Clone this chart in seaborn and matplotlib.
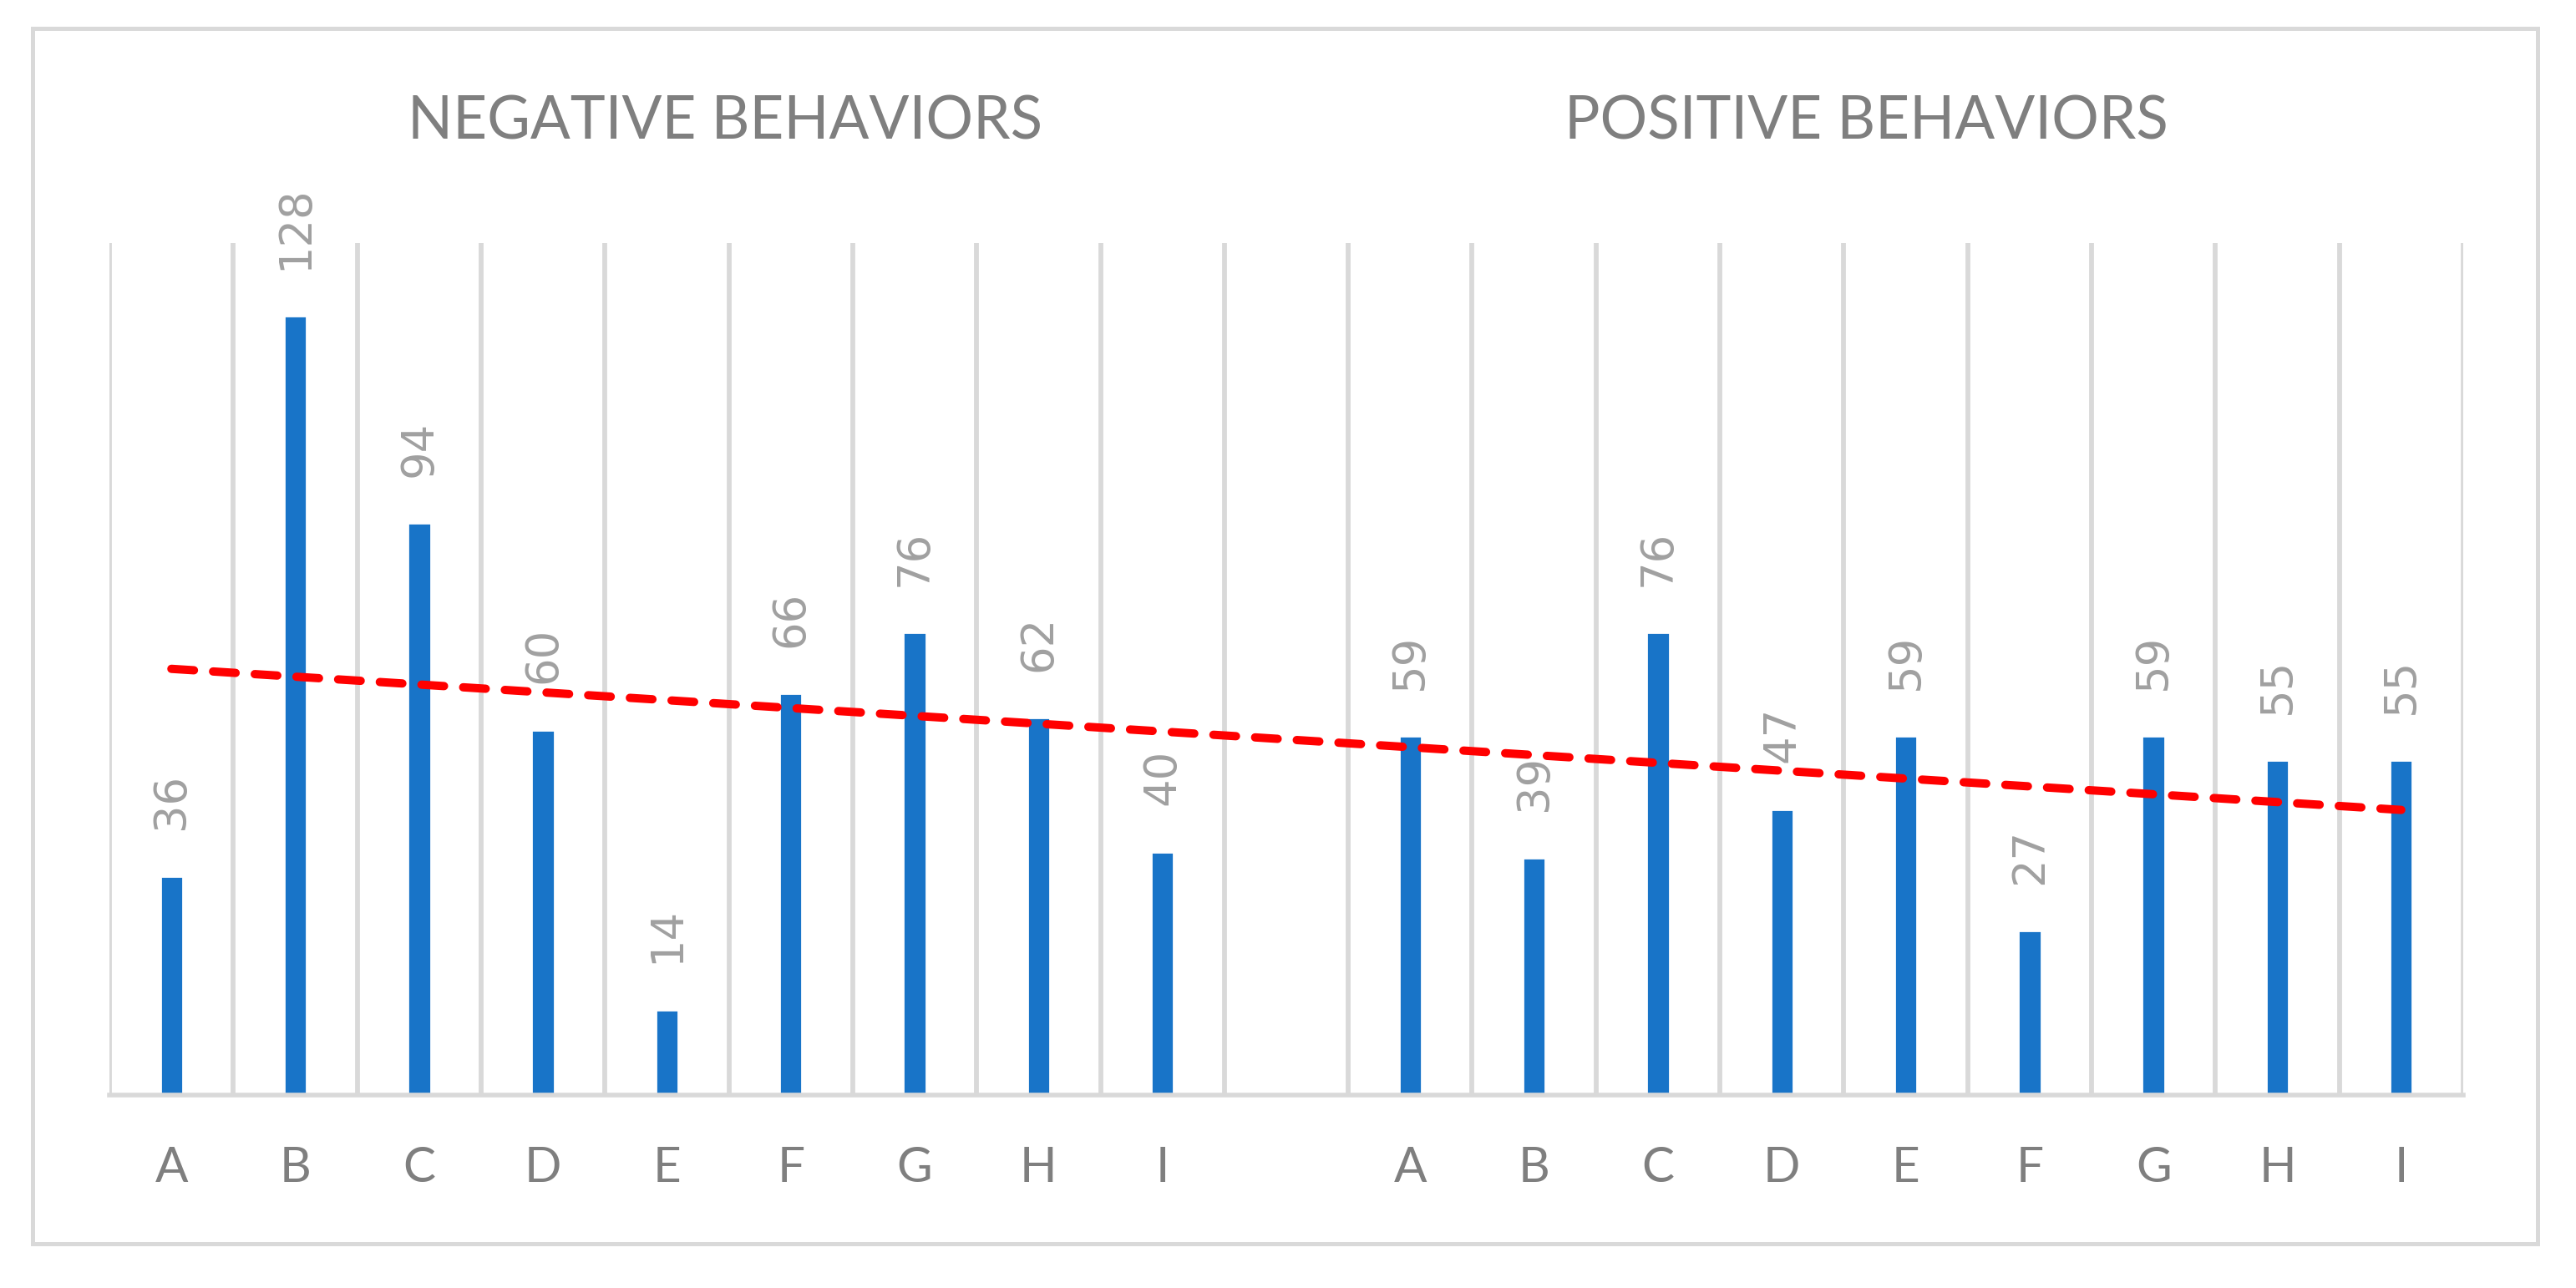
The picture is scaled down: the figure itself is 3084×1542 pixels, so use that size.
import matplotlib
matplotlib.use("Agg")
import matplotlib.pyplot as plt
from matplotlib.patches import Rectangle
import numpy as np
import pandas as pd
import seaborn as sns

# Chart data
letters = ["A", "B", "C", "D", "E", "F", "G", "H", "I"]
negative_counts = [36, 128, 94, 60, 14, 66, 76, 62, 40]
positive_counts = [59, 39, 76, 47, 59, 27, 59, 55, 55]
group_titles = ["NEGATIVE BEHAVIORS", "POSITIVE BEHAVIORS"]

neg_slots = ["neg_" + c for c in letters]
pos_slots = ["pos_" + c for c in letters]
slot_order = neg_slots + ["gap"] + pos_slots
tick_labels = letters + [""] + letters

df = pd.DataFrame({
    "slot": neg_slots + pos_slots,
    "count": negative_counts + positive_counts,
})

BAR_BLUE = "#1874C8"
GRID_GRAY = "#D9D9D9"
TEXT_GRAY = "#7F7F7F"
LABEL_GRAY = "#A0A0A0"

sns.set_theme(style="white")
plt.rcParams["font.family"] = ["Lato", "DejaVu Sans"]

fig = plt.figure(figsize=(15.42, 7.71), dpi=200)
ax = fig.add_axes([0.0425, 0.1498, 0.9137, 0.6615])

sns.barplot(data=df, x="slot", y="count", order=slot_order, color=BAR_BLUE,
            saturation=1, width=0.185, ax=ax, zorder=2)

# value labels, rotated like the original
ax.bar_label(ax.containers[0], fmt="%d", rotation=90, padding=20,
             color=LABEL_GRAY, fontsize=19, family="DejaVu Sans")

# linear trend over all bars (gap slot left out)
xpos = np.array([slot_order.index(s) for s in df["slot"]])
slope, intercept = np.polyfit(xpos, df["count"].to_numpy(), 1)
x_trend = np.array([xpos.min(), xpos.max()])
ax.plot(x_trend, slope * x_trend + intercept, color="#FF0000", lw=3.6,
        dashes=(2.7, 2.3), dash_capstyle="round", zorder=4)

# axes styling
ax.set_xlim(-0.5, len(slot_order) - 0.5)
ax.set_ylim(0, 140)
ax.set_xticks(range(len(slot_order)), labels=tick_labels)
ax.set_xticks(np.arange(-0.5, len(slot_order)), minor=True)
ax.set_yticks([])
ax.grid(False)
ax.grid(which="minor", axis="x", color=GRID_GRAY, lw=2.1, zorder=0)
ax.tick_params(axis="x", which="both", length=0, pad=22, labelsize=21,
               labelcolor=TEXT_GRAY)
ax.set_xlabel("")
ax.set_ylabel("")
for side in ["left", "right", "top"]:
    ax.spines[side].set_visible(False)
ax.spines["bottom"].set_color(GRID_GRAY)
ax.spines["bottom"].set_linewidth(2.0)

# group titles
fig.text(0.2815, 0.8917, group_titles[0], ha="center", va="baseline",
         fontsize=25.5, color=TEXT_GRAY)
fig.text(0.7245, 0.8917, group_titles[1], ha="center", va="baseline",
         fontsize=25.5, color=TEXT_GRAY)

# chart area border
fig.add_artist(Rectangle((0.01265, 0.0344), 0.9724, 0.9436,
                         transform=fig.transFigure, fill=False,
                         ec=GRID_GRAY, lw=1.8))

fig.savefig("out.png", dpi=200, facecolor="white")
